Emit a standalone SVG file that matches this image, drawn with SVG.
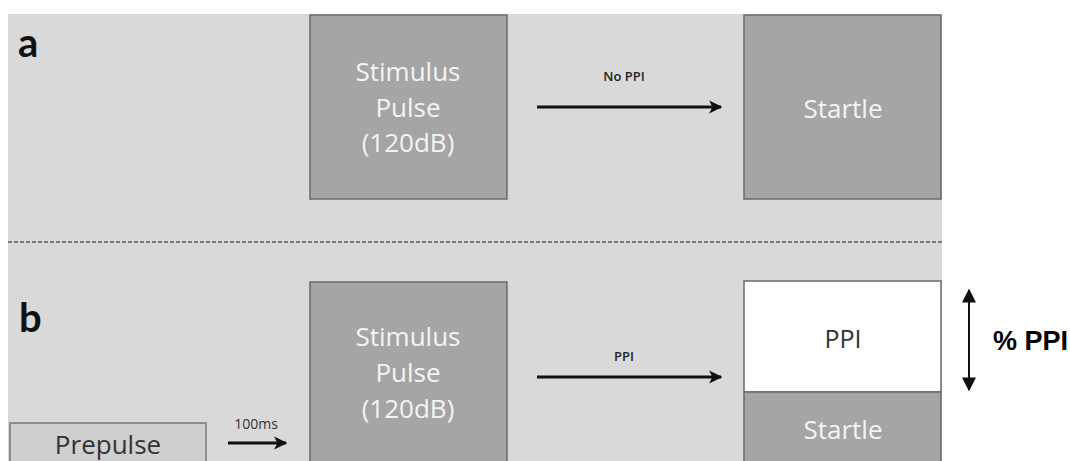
<svg xmlns="http://www.w3.org/2000/svg" width="1070" height="461" viewBox="0 0 1070 461">
<style>
.box{fill:#a5a5a5;stroke:#6a6a6a;stroke-width:1.5}
.wt{font-family:"Open Sans",Lato,sans-serif;font-size:26px;fill:#f4f4f4;text-anchor:middle}
.dk{font-family:"Open Sans",Lato,sans-serif;fill:#333;text-anchor:middle}
.sm{font-family:"Open Sans",Lato,sans-serif;fill:#222;text-anchor:middle;font-weight:600}
.lbl{font-family:Lato,"Liberation Sans",sans-serif;font-weight:bold;font-size:40px;fill:#111}
.conn{stroke:#111;stroke-width:3;fill:none}
</style>
<defs>
<marker id="ah" viewBox="0 0 10 10" refX="9" refY="5" markerWidth="4.4" markerHeight="4.4" orient="auto" markerUnits="strokeWidth">
<path d="M0,0 L10,5 L0,10 L2.5,5 Z" fill="#111"/>
</marker>
<marker id="ah2" viewBox="0 0 10 10" refX="9" refY="5" markerWidth="7" markerHeight="7" orient="auto-start-reverse" markerUnits="strokeWidth">
<path d="M0,0 L10,5 L0,10 Z" fill="#111"/>
</marker>
</defs>
<rect x="0" y="0" width="1070" height="461" fill="#fff"/>
<rect id="panel" x="8" y="14" width="934" height="447" fill="#d9d9d9"/>
<line x1="8" y1="242" x2="942" y2="242" stroke="#777" stroke-width="2" stroke-dasharray="4,2"/>
<text class="lbl" x="18" y="57">a</text>
<text class="lbl" x="19" y="332">b</text>
<g id="stimA">
<rect class="box" x="310" y="15" width="197" height="184"/>
<text class="wt" x="408" y="81">Stimulus</text>
<text class="wt" x="408" y="117">Pulse</text>
<text class="wt" x="408" y="152">(120dB)</text>
</g>
<g id="startleA">
<rect class="box" x="744" y="15" width="197" height="184"/>
<text class="wt" x="843" y="118">Startle</text>
</g>
<g id="stimB">
<rect class="box" x="310" y="282" width="197" height="185"/>
<text class="wt" x="408" y="346">Stimulus</text>
<text class="wt" x="408" y="382">Pulse</text>
<text class="wt" x="408" y="418">(120dB)</text>
</g>
<g id="ppi">
<rect x="744" y="281" width="197" height="111" fill="#fff" stroke="#6a6a6a" stroke-width="1.5"/>
<text class="dk" x="843" y="348" font-size="25">PPI</text>
</g>
<g id="startleB">
<rect class="box" x="744" y="392" width="197" height="75"/>
<text class="wt" x="843" y="439">Startle</text>
</g>
<g id="prepulse">
<rect x="10" y="423" width="196" height="44" fill="#cfcfcf" stroke="#777" stroke-width="1.5"/>
<text class="dk" x="108" y="454" font-size="26">Prepulse</text>
</g>
<g id="pctppi">
<text x="993" y="350" font-family="'Liberation Sans',Arial,sans-serif" font-weight="bold" font-size="27" fill="#000">% PPI</text>
</g>
<g id="connectors">
<line class="conn" x1="537" y1="107" x2="721" y2="107" marker-end="url(#ah)"/>
<text class="sm" x="624" y="81" font-size="13">No PPI</text>
<line class="conn" x1="537" y1="377" x2="721" y2="377" marker-end="url(#ah)"/>
<text class="sm" x="624" y="361" font-size="13">PPI</text>
<line class="conn" x1="228" y1="443" x2="286" y2="443" marker-end="url(#ah)"/>
<text class="dk" x="256" y="429" font-size="14">100ms</text>
<line x1="969" y1="290" x2="969" y2="390" stroke="#111" stroke-width="2" marker-start="url(#ah2)" marker-end="url(#ah2)"/>
</g>
</svg>
